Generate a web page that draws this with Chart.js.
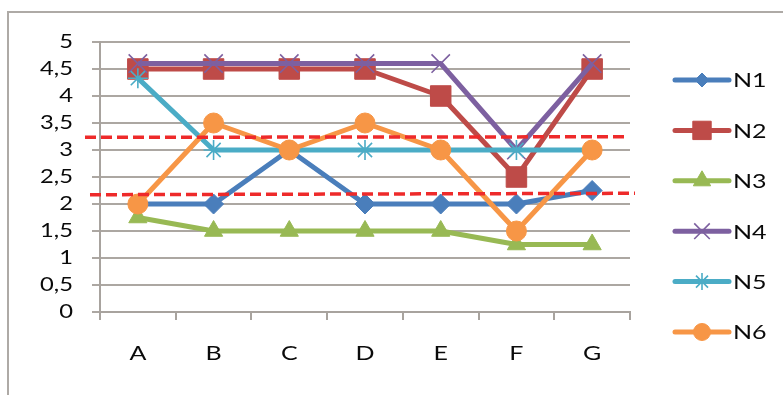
<!DOCTYPE html>
<html>
<head>
<meta charset="utf-8">
<script src="https://cdn.jsdelivr.net/npm/chart.js@4.4.1/dist/chart.umd.min.js"></script>
<style>
    html, body { margin: 0; padding: 0; background: #fff; overflow: hidden; }
    #wrap { position: relative; width: 783px; height: 395px; overflow: hidden; }
    .frame {
        position: absolute; left: 7px; top: 11px; right: -20px; bottom: -20px;
        border: 2px solid #aeaaa6;
    }
    canvas { position: absolute; left: 0; top: 0; }
</style>
</head>
<body>
<div id="wrap">
    <div class="frame"></div>
    <canvas id="chart" width="783" height="395"></canvas>
</div>
<script>
const categories = ['A', 'B', 'C', 'D', 'E', 'F', 'G'];
const seriesNames = ['N1', 'N2', 'N3', 'N4', 'N5', 'N6'];

const n1 = [2, 2, 3, 2, 2, 2, 2.25];
const n2 = [4.5, 4.5, 4.5, 4.5, 4, 2.5, 4.5];
const n3 = [1.75, 1.5, 1.5, 1.5, 1.5, 1.25, 1.25];
const n4 = [4.6, 4.6, 4.6, 4.6, 4.6, 3, 4.6];
const n5 = [4.33, 3, 3, 3, 3, 3, 3];
const n6 = [2, 3.5, 3, 3.5, 3, 1.5, 3];

const yTickLabels = ['0', '0,5', '1', '1,5', '2', '2,5', '3', '3,5', '4', '4,5', '5'];

// reference lines: [value at left end, value at right end]
const upperLimit = [3.235, 3.245];
const lowerLimit = [2.172, 2.198];

const FONT = 'Lato, "Open Sans", sans-serif';
const TEXT_STRETCH = 1.25;

const styles = [
    { color: '#4a7ebb', pointStyle: 'rectRot', radius: 10, bw: 1, legendRadius: 7 },
    { color: '#be4b48', pointStyle: 'rect', radius: 14.5, bw: 1, legendRadius: 13 },
    { color: '#98b954', pointStyle: 'triangle', radius: 10.5, bw: 1, legendRadius: 10 },
    { color: '#7d60a0', pointStyle: 'crossRot', radius: 13, bw: 1.6, legendRadius: 11 },
    { color: '#4bacc6', pointStyle: 'star', radius: 10, bw: 1.6, legendRadius: 8.5 },
    { color: '#f79646', pointStyle: 'circle', radius: 10, bw: 1, legendRadius: 8.5 }
];

const values = [n1, n2, n3, n4, n5, n6];

const datasets = values.map((data, i) => ({
    label: seriesNames[i],
    data: data,
    borderColor: styles[i].color,
    backgroundColor: styles[i].color,
    borderWidth: 5,
    tension: 0,
    pointStyle: styles[i].pointStyle,
    pointRadius: styles[i].radius,
    pointHoverRadius: styles[i].radius,
    pointBorderWidth: styles[i].bw,
    pointBackgroundColor: styles[i].color,
    pointBorderColor: styles[i].color,
    borderJoinStyle: 'round',
    clip: false,
    // first series at the bottom, last one on top
    order: values.length - i
}));

// wide glyphs: stretch every label horizontally around its anchor
const wideText = {
    id: 'wideText',
    beforeInit(chart) {
        const ctx = chart.ctx;
        const fill = ctx.fillText.bind(ctx);
        ctx.fillText = (text, x, y, maxWidth) => {
            ctx.save();
            ctx.translate(x, y);
            ctx.scale(TEXT_STRETCH, 1);
            if (maxWidth === undefined) fill(text, 0, 0);
            else fill(text, 0, 0, maxWidth);
            ctx.restore();
        };
    }
};

const limitLines = {
    id: 'limitLines',
    afterDatasetsDraw(chart) {
        const { ctx, chartArea, scales } = chart;
        const y = scales.y;
        const lines = [
            { v: upperLimit, x0: chartArea.left - 15, x1: chartArea.right - 1 },
            { v: lowerLimit, x0: chartArea.left - 10, x1: chartArea.right + 5 }
        ];
        ctx.save();
        ctx.strokeStyle = '#ee2a2a';
        ctx.lineWidth = 3.5;
        ctx.setLineDash([11, 5]);
        lines.forEach(l => {
            ctx.beginPath();
            ctx.moveTo(l.x0, y.getPixelForValue(l.v[0]));
            ctx.lineTo(l.x1, y.getPixelForValue(l.v[1]));
            ctx.stroke();
        });
        ctx.restore();
    }
};

const lineLegend = {
    id: 'lineLegend',
    afterDraw(chart) {
        const { ctx } = chart;
        const x0 = 675, x1 = 729, top = 80, step = 50.4;
        ctx.save();
        chart.data.datasets.forEach((ds, i) => {
            const yy = top + i * step;
            ctx.strokeStyle = ds.borderColor;
            ctx.fillStyle = ds.borderColor;
            ctx.lineWidth = 5;
            ctx.lineCap = 'round';
            ctx.beginPath();
            ctx.moveTo(x0, yy);
            ctx.lineTo(x1, yy);
            ctx.stroke();
            ctx.lineCap = 'butt';
            ctx.lineWidth = ds.pointBorderWidth;
            Chart.helpers.drawPoint(ctx, {
                pointStyle: ds.pointStyle,
                radius: styles[i].legendRadius,
                rotation: 0,
                borderWidth: ds.pointBorderWidth
            }, (x0 + x1) / 2, yy);
            ctx.fillStyle = '#0a0a0a';
            ctx.font = '20px ' + FONT;
            ctx.textBaseline = 'middle';
            ctx.textAlign = 'left';
            ctx.fillText(ds.label, 733, yy + 1);
        });
        ctx.restore();
    }
};

new Chart(document.getElementById('chart'), {
    type: 'line',
    data: { labels: categories, datasets: datasets },
    options: {
        responsive: false,
        animation: false,
        layout: { padding: { top: 42, right: 153, bottom: 0, left: 0 } },
        plugins: {
            legend: { display: false },
            tooltip: { enabled: false }
        },
        scales: {
            x: {
                offset: true,
                afterFit: s => { s.height = 83; },
                grid: {
                    offset: true,
                    drawOnChartArea: false,
                    drawTicks: true,
                    tickLength: 8,
                    color: '#a8a39e',
                    lineWidth: 2
                },
                border: { display: true, color: '#a8a39e', width: 2 },
                ticks: {
                    color: '#0a0a0a',
                    padding: 22,
                    font: { family: FONT, size: 20 }
                }
            },
            y: {
                min: 0,
                max: 5,
                afterFit: s => { s.width = 100; },
                grid: {
                    color: '#aca7a2',
                    lineWidth: 2,
                    tickLength: 8
                },
                border: { display: true, color: '#a8a39e', width: 2 },
                ticks: {
                    stepSize: 0.5,
                    color: '#0a0a0a',
                    padding: 19,
                    font: { family: FONT, size: 19 },
                    callback: (v, i) => yTickLabels[i]
                }
            }
        }
    },
    plugins: [wideText, limitLines, lineLegend]
});
</script>
</body>
</html>
